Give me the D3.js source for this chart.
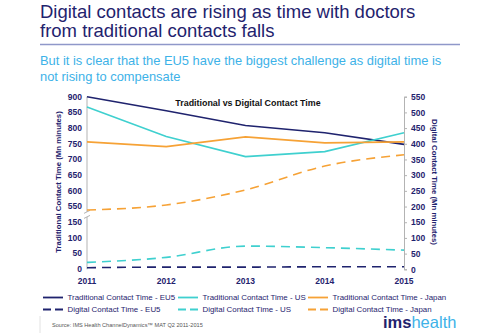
<!DOCTYPE html>
<html lang="en">
<head>
<meta charset="utf-8">
<title>Traditional vs Digital Contact Time</title>
<script src="https://cdn.jsdelivr.net/npm/d3@7"></script>
<style>
  body { margin: 0; background: #fff; font-family: "Liberation Sans", Arial, sans-serif; }
  svg text { font-family: "Liberation Sans", Arial, sans-serif; }
</style>
</head>
<body>
<div id="chart"></div>
<script>
// data
var years = [2011, 2012, 2013, 2014, 2015];
var tradEU5 = [900, 855, 808, 785, 748];
var tradUS = [867, 773, 709, 725, 785];
var tradJapan = [756, 741, 772, 753, 756];
var digEU5 = [5, 7, 7, 8, 8];
var digUS = [22, 38, 74, 69, 61];
var digJapan = [189, 205, 253, 329, 365];

var leftTicksTop = [550, 600, 650, 700, 750, 800, 850, 900];
var leftTicksBottom = [0, 50, 100, 150];
var rightTicks = [0, 50, 100, 150, 200, 250, 300, 350, 400, 450, 500, 550];

var navy = "#1f236e", teal = "#3fd0cf", orange = "#f6a236";

var series = [
  { name: "Traditional Contact Time - EU5", vals: tradEU5, color: navy, side: "L", dash: null },
  { name: "Traditional Contact Time - US", vals: tradUS, color: teal, side: "L", dash: null },
  { name: "Traditional Contact Time - Japan", vals: tradJapan, color: orange, side: "L", dash: null },
  { name: "Digital Contact Time - EU5", vals: digEU5, color: navy, side: "R", dash: "9,6" },
  { name: "Digital Contact Time - US", vals: digUS, color: teal, side: "R", dash: "9,6" },
  { name: "Digital Contact Time - Japan", vals: digJapan, color: orange, side: "R", dash: "9,6" }
];

var W = 500, H = 333;
var plot = { left: 87, right: 404, top: 96.7, bottom: 269.3 };

var svg = d3.select("#chart").append("svg")
  .attr("width", W).attr("height", H);

// header
var title = svg.append("text").attr("x", 40).attr("fill", navy)
  .style("font-size", "18.5px");
title.append("tspan").attr("x", 40).attr("y", 18).text("Digital contacts are rising as time with doctors");
title.append("tspan").attr("x", 40).attr("y", 37).text("from traditional contacts falls");

svg.append("line").attr("x1", 40).attr("x2", 460).attr("y1", 44.5).attr("y2", 44.5)
  .attr("stroke", "#8f98c9").attr("stroke-width", 1.5);

var sub = svg.append("text").attr("fill", "#3db2e8").style("font-size", "12.9px");
sub.append("tspan").attr("x", 40).attr("y", 64.5).text("But it is clear that the EU5 have the biggest challenge as digital time is");
sub.append("tspan").attr("x", 40).attr("y", 81).text("not rising to compensate");

// scales
var x = d3.scalePoint().domain(years).range([plot.left, plot.right]);
var yR = d3.scaleLinear().domain([0, 550]).range([plot.bottom, plot.top]);
// broken left axis: 0-150 shares the right scale, 550-900 is shifted down by 350
function yL(v) { return v <= 150 ? yR(v) : yR(v - 350); }

// axes lines
var axisColor = "#b3b3b3";
svg.append("line").attr("x1", plot.left).attr("x2", plot.left)
  .attr("y1", yL(900)).attr("y2", yR(183)).attr("stroke", axisColor);
svg.append("line").attr("x1", plot.left).attr("x2", plot.left)
  .attr("y1", yR(167)).attr("y2", plot.bottom).attr("stroke", axisColor);
// break marks
[183, 167].forEach(function(v) {
  svg.append("line").attr("x1", plot.left - 3).attr("x2", plot.left + 3)
    .attr("y1", yR(v) + 1.5).attr("y2", yR(v) - 1.5)
    .attr("stroke", axisColor);
});

var rAxis = svg.append("g").attr("transform", "translate(" + plot.right + ",0)")
  .call(d3.axisRight(yR).tickValues(rightTicks).tickSize(3).tickPadding(4));
rAxis.select(".domain").attr("stroke", axisColor);
rAxis.selectAll(".tick line").attr("stroke", axisColor);
rAxis.selectAll("text").attr("fill", navy).style("font-size", "8.5px").style("font-weight", "bold");

var leftTicks = leftTicksBottom.concat(leftTicksTop);
svg.append("g").selectAll("text").data(leftTicks).join("text")
  .attr("x", plot.left - 5).attr("y", function(d) { return yL(d); })
  .attr("dy", "0.33em").attr("text-anchor", "end")
  .attr("fill", navy).style("font-size", "8.5px").style("font-weight", "bold")
  .text(function(d) { return d; });

svg.append("g").selectAll("text").data(years).join("text")
  .attr("x", function(d) { return x(d); }).attr("y", 284)
  .attr("text-anchor", "middle").attr("fill", navy)
  .style("font-size", "8.5px").style("font-weight", "bold")
  .text(function(d) { return d; });

// axis titles
svg.append("text").attr("transform", "translate(61,182) rotate(-90)")
  .attr("text-anchor", "middle").attr("fill", navy)
  .style("font-size", "7.8px").style("font-weight", "bold")
  .text("Traditional Contact Time (Mn minutes)");
svg.append("text").attr("transform", "translate(432,182) rotate(90)")
  .attr("text-anchor", "middle").attr("fill", navy)
  .style("font-size", "7.8px").style("font-weight", "bold")
  .text("Digital Contact Time (Mn minutes)");

svg.append("text").attr("x", 248).attr("y", 105.5).attr("text-anchor", "middle")
  .attr("fill", "#111").style("font-size", "8.9px").style("font-weight", "bold")
  .text("Traditional vs Digital Contact Time");

// lines
series.forEach(function(s) {
  var yy = s.side === "L" ? yL : yR;
  var line = d3.line()
    .x(function(d, i) { return x(years[i]); })
    .y(function(d) { return yy(d); })
    .curve(s.dash ? d3.curveMonotoneX : d3.curveLinear);
  svg.append("path").datum(s.vals)
    .attr("d", line).attr("fill", "none")
    .attr("stroke", s.color).attr("stroke-width", 1.6)
    .attr("stroke-dasharray", s.dash);
});

// legend
var legCols = [43, 178, 308];
var legRows = [297.5, 309.5];
series.forEach(function(s, i) {
  var cx = legCols[i % 3], cy = legRows[Math.floor(i / 3)];
  svg.append("line").attr("x1", cx).attr("x2", cx + 20).attr("y1", cy).attr("y2", cy)
    .attr("stroke", s.color).attr("stroke-width", 1.8)
    .attr("stroke-dasharray", s.dash ? "8,4" : null);
  svg.append("text").attr("x", cx + 24.5).attr("y", cy).attr("dy", "0.35em")
    .attr("fill", navy).style("font-size", "7.9px")
    .text(s.name);
});

// source + logo
svg.append("line").attr("x1", 40).attr("x2", 40).attr("y1", 316).attr("y2", 333)
  .attr("stroke", "#e2e2e2");
svg.append("text").attr("x", 52).attr("y", 326.5).attr("fill", "#555")
  .style("font-size", "5.6px")
  .text("Source: IMS Health ChannelDynamics\u2122 MAT Q2 2011-2015");

var logo = svg.append("text").attr("x", 383).attr("y", 328).style("font-size", "16.5px");
logo.append("tspan").attr("fill", navy).style("font-weight", "bold").text("ims");
logo.append("tspan").attr("fill", "#3db2e8").style("font-weight", "300").text("health");
</script>
</body>
</html>
